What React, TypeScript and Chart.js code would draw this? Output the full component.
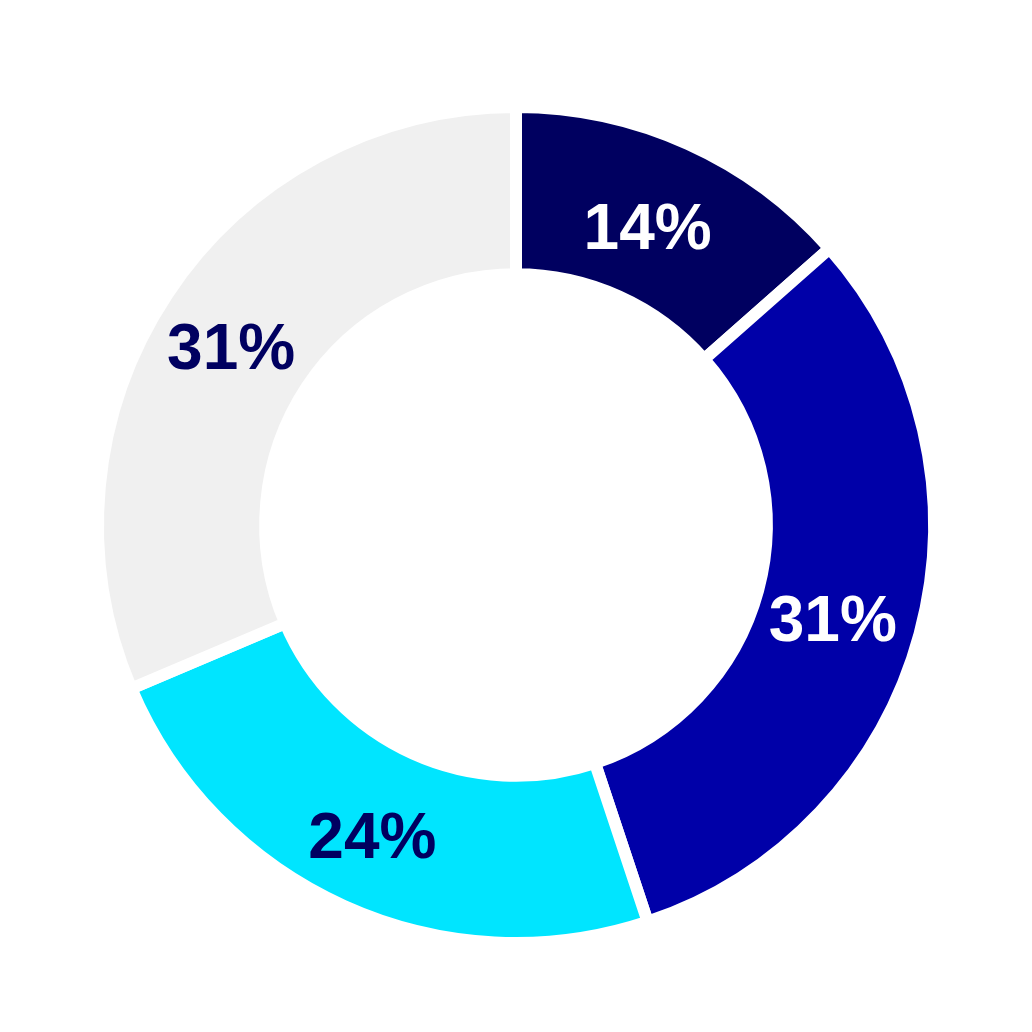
import React, { useEffect, useRef } from "react";
import { Chart, registerables } from "chart.js";

Chart.register(...registerables);

const categories = ["A", "B", "C", "D"];
const values = [13.5, 31.4, 23.7, 31.4];
const labels = ["14%", "31%", "24%", "31%"];
const colors = ["#000060", "#0000A8", "#00E5FF", "#F0F0F0"];
const labelColors = ["#FFFFFF", "#FFFFFF", "#000060", "#000060"];

const labelPlugin = {
  id: "sliceLabels",
  afterDatasetsDraw(chart: any) {
    const ctx = chart.ctx;
    const meta = chart.getDatasetMeta(0);
    ctx.save();
    ctx.font = "bold 64px 'Liberation Sans', Arial, sans-serif";
    ctx.textAlign = "center";
    ctx.textBaseline = "middle";
    meta.data.forEach((arc: any, i: number) => {
      const p = arc.tooltipPosition();
      ctx.fillStyle = labelColors[i];
      ctx.fillText(labels[i], p.x - 6, p.y + 11);
    });
    ctx.restore();
  },
};

export default function App() {
  const ref = useRef<HTMLCanvasElement | null>(null);
  useEffect(() => {
    if (!ref.current) return;
    const chart = new Chart(ref.current, {
      type: "doughnut",
      data: {
        labels: categories,
        datasets: [
          {
            data: values,
            backgroundColor: colors,
            borderColor: "#FFFFFF",
            borderWidth: 12,
            hoverOffset: 0,
          },
        ],
      },
      options: {
        animation: false,
        responsive: true,
        maintainAspectRatio: false,
        cutout: "60%",
        layout: { padding: { left: 84, right: 84, top: 93, bottom: 75 } },
        plugins: {
          legend: { display: false },
          tooltip: { enabled: false },
        },
      },
      plugins: [labelPlugin],
    });
    return () => chart.destroy();
  }, []);
  return (
    <div style={{ width: 1016, height: 1016, position: "relative" }}>
      <canvas ref={ref} />
    </div>
  );
}
